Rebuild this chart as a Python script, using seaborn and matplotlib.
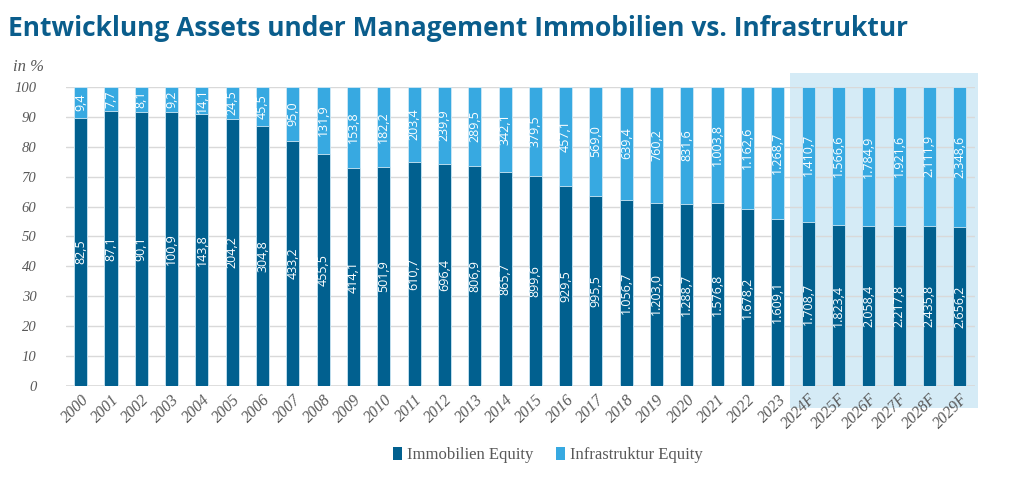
import matplotlib
matplotlib.use("Agg")
import matplotlib.pyplot as plt
from matplotlib.patches import Rectangle, Patch
import seaborn as sns
import pandas as pd

years = ["2000", "2001", "2002", "2003", "2004", "2005", "2006", "2007", "2008", "2009",
         "2010", "2011", "2012", "2013", "2014", "2015", "2016", "2017", "2018", "2019",
         "2020", "2021", "2022", "2023", "2024F", "2025F", "2026F", "2027F", "2028F", "2029F"]
immobilien = [82.5, 87.1, 90.1, 100.9, 143.8, 204.2, 304.8, 433.2, 455.5, 414.1,
              501.9, 610.7, 696.4, 806.9, 865.7, 899.6, 929.5, 995.5, 1056.7, 1203.0,
              1288.7, 1576.8, 1678.2, 1609.1, 1708.7, 1823.4, 2058.4, 2217.8, 2435.8, 2656.2]
infrastruktur = [9.4, 7.7, 8.1, 9.2, 14.1, 24.5, 45.5, 95.0, 131.9, 153.8,
                 182.2, 203.4, 239.9, 289.5, 342.1, 379.5, 457.1, 569.0, 639.4, 760.2,
                 831.6, 1003.8, 1162.6, 1268.7, 1410.7, 1566.6, 1784.9, 1921.6, 2111.9, 2348.6]
series_names = ["Immobilien Equity", "Infrastruktur Equity"]
title = "Entwicklung Assets under Management Immobilien vs. Infrastruktur"

DARK = "#01608F"
LIGHT = "#37A9E1"
HILITE = "#D5EBF6"
TITLE_C = "#0A5D8C"
GREY = "#595959"

df = pd.DataFrame({"year": years, "imm": immobilien, "inf": infrastruktur})
df["total"] = df["imm"] + df["inf"]
df["imm_pct"] = df["imm"] / df["total"] * 100
df["tot_pct"] = 100.0

def de_fmt(v):
    s = f"{v:,.1f}"
    return s.replace(",", "X").replace(".", ",").replace("X", ".")

sns.set_theme(style="white")
plt.rcParams["font.family"] = ["Open Sans", "DejaVu Sans"]

fig = plt.figure(figsize=(10.24, 4.86), dpi=100)
ax = fig.add_axes([0.064, 0.206, 0.888, 0.615])

sns.barplot(data=df, x="year", y="tot_pct", color=LIGHT, width=0.43, ax=ax,
            saturation=1, edgecolor="#CFE8F5", linewidth=0.6, zorder=3)
sns.barplot(data=df, x="year", y="imm_pct", color=DARK, width=0.43, ax=ax,
            saturation=1, edgecolor="#CFE8F5", linewidth=0.6, zorder=4)

ax.set_xlim(-0.5, len(years) - 0.5)
ax.set_ylim(0, 100)

# forecast highlight
ax.add_patch(Rectangle((23.4, -7.4), 6.2, 112.1, facecolor=HILITE, edgecolor="none",
                       zorder=0, clip_on=False, transform=ax.transData))

ax.set_yticks(range(0, 101, 10))
ax.yaxis.grid(True, color="#D9D9D9", linewidth=1, zorder=1)
ax.set_axisbelow(True)
for s in ["top", "right", "left", "bottom"]:
    ax.spines[s].set_visible(False)
ax.axhline(0, color="#D9D9D9", linewidth=1.2, zorder=2)

ax.tick_params(axis="y", length=0, pad=21, labelsize=10.5, labelcolor=GREY)
ax.tick_params(axis="x", length=0, pad=4, labelsize=11.5, labelcolor=GREY)
for lab in ax.get_yticklabels():
    lab.set_fontfamily("Liberation Serif")
    lab.set_fontstyle("italic")
ax.set_xticks(range(len(years)))
ax.set_xticklabels(years, rotation=45, ha="right", rotation_mode="anchor",
                   fontfamily="Liberation Serif", fontstyle="italic")
ax.set_xlabel("")
ax.set_ylabel("")

for i, r in df.iterrows():
    ax.text(i, r["imm_pct"] / 2, de_fmt(r["imm"]), rotation=90, ha="center", va="center",
            color="white", fontsize=9, zorder=6)
    ax.text(i, (r["imm_pct"] + 100) / 2, de_fmt(r["inf"]), rotation=90, ha="center",
            va="center", color="white", fontsize=9, zorder=6)

fig.text(0.008, 0.942, title, fontsize=19, fontweight="bold", color=TITLE_C,
         ha="left", va="center")
fig.text(0.013, 0.862, "in %", fontsize=12, fontstyle="italic", color=GREY,
         fontfamily="Liberation Serif", ha="left", va="center")

handles = [Patch(facecolor=DARK, edgecolor="none"), Patch(facecolor=LIGHT, edgecolor="none")]
leg = fig.legend(handles, series_names, loc="center", bbox_to_anchor=(0.535, 0.063), ncol=2,
                 frameon=False, handlelength=0.5, handleheight=0.8, handletextpad=0.3,
                 columnspacing=1.4, prop={"family": "Liberation Serif", "size": 12})
for t in leg.get_texts():
    t.set_color(GREY)

fig.savefig("out.png", dpi=100)
